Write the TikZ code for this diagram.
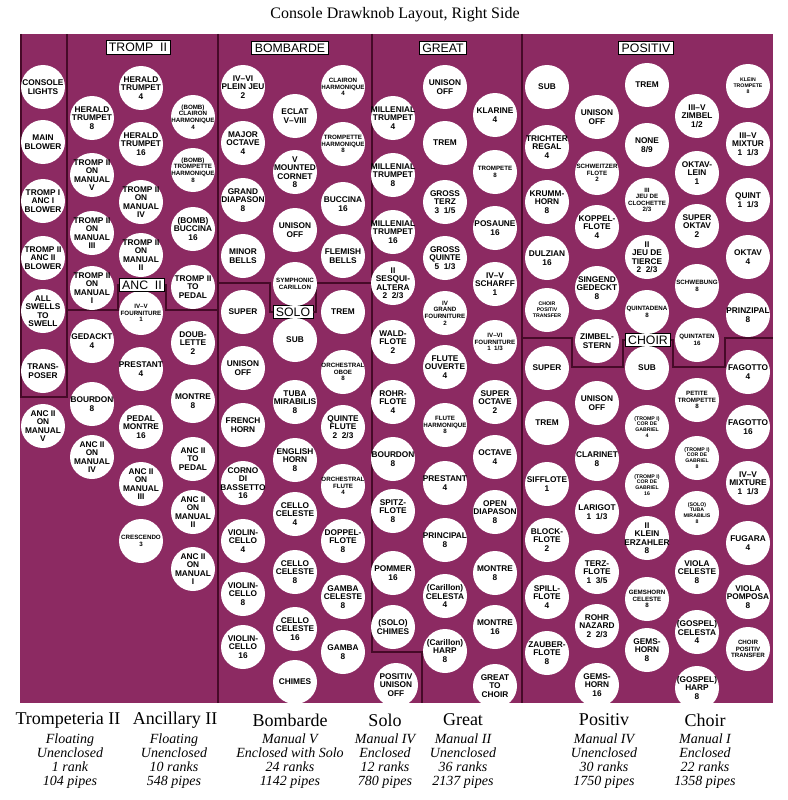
\documentclass[tikz,border=0pt]{standalone}
\usepackage{fontspec}
\setmainfont{Liberation Serif}
\newfontfamily\knobfont{Liberation Sans}
\definecolor{panel}{RGB}{140,42,98}
\definecolor{rulec}{RGB}{70,10,40}
\tikzset{
 knob/.style={circle, fill=white, minimum size=44pt, inner sep=0pt},
 kt/.style={align=center, inner sep=0pt, text=black},
 kf/.style={font=\knobfont\bfseries\fontsize{8.3}{8.5}\selectfont},
 ks/.style={font=\knobfont\bfseries\fontsize{6.2}{6.6}\selectfont},
 kx/.style={font=\knobfont\bfseries\fontsize{5.2}{5.8}\selectfont},
 divline/.style={draw=rulec, line width=2pt},
 secbox/.style={draw=black, fill=white, line width=0.8pt, font=\knobfont\fontsize{12.3}{13}\selectfont, inner xsep=3pt, inner ysep=1.5pt, minimum height=13.5pt},
 mgr/.style={font=\fontsize{18}{19}\selectfont, inner sep=0pt},
 mdet/.style={font=\itshape\fontsize{14}{13.7}\selectfont, align=center, anchor=north, inner sep=0pt},
}
\newcommand\kn[5][kf]{\node[knob] (#2) at (#3,#4) {};\node[kt,#1] (#2t) at (#2) {#5};}
\begin{document}
\begin{tikzpicture}[x=1pt,y=-1pt]
\useasboundingbox (0,0) rectangle (787,800);
\fill[panel] (20,34) rectangle (773,703);
% title
\node[font=\fontsize{16}{18}\selectfont] (title) at (395,15) {Console Drawknob Layout, Right Side};
% section boxes
\node[secbox] (btromp) at (138,47.5) {TROMP\ \ II};
\node[secbox] (bbomb) at (290,48) {BOMBARDE};
\node[secbox] (bgreat) at (443,48) {GREAT};
\node[secbox] (bpos) at (646,48) {POSITIV};
\node[secbox] (banc) at (142,285) {ANC\ \ II};
\node[secbox] (bsolo) at (293,312) {SOLO};
\node[secbox] (bchoir) at (648,340) {CHOIR};
% dividing lines
\draw[divline] (21,34) -- (21,397) -- (67,397) -- (67,34);
\draw[divline] (67,310) -- (118,310) -- (118,285) -- (banc.west);
\draw[divline] (banc.east) -- (166,285) -- (166,310) -- (218,310);
\draw[divline] (218,34) -- (218,703);
\draw[divline] (218,283) -- (270,283) -- (270,312) -- (bsolo.west);
\draw[divline] (bsolo.east) -- (316,312) -- (316,283) -- (372,283);
\draw[divline] (372,34) -- (372,652) -- (422,652) -- (422,703);
\draw[divline] (522,34) -- (522,703);
\draw[divline] (522,338) -- (572,338) -- (572,367) -- (623,367) -- (623,340) -- (bchoir.west);
\draw[divline] (bchoir.east) -- (673,340) -- (673,367) -- (725,367) -- (725,338) -- (773,338);
% console column
\kn{c1}{43}{87}{CONSOLE\\LIGHTS}
\kn{c2}{43}{142}{MAIN\\BLOWER}
\kn{c3}{43}{201}{TROMP I\\ANC I\\BLOWER}
\kn{c4}{43}{258}{TROMP II\\ANC II\\BLOWER}
\kn{c5}{43}{311}{ALL\\SWELLS\\TO\\SWELL}
\kn{c6}{43}{371}{TRANS-\\POSER}
\kn{c7}{43}{426}{ANC II\\ON\\MANUAL\\V}
% tromp II / anc II
\kn{t1}{92}{118}{HERALD\\TRUMPET\\8}
\kn{t2}{92}{175}{TROMP II\\ON\\MANUAL\\V}
\kn{t3}{92}{233}{TROMP II\\ON\\MANUAL\\III}
\kn{t4}{92}{288}{TROMP II\\ON\\MANUAL\\I}
\kn{a1}{92}{341}{GEDACKT\\4}
\kn{a2}{92}{404}{BOURDON\\8}
\kn{a3}{92}{457}{ANC II\\ON\\MANUAL\\IV}
\kn{t5}{141}{88}{HERALD\\TRUMPET\\4}
\kn{t6}{141}{144}{HERALD\\TRUMPET\\16}
\kn{t7}{141}{202}{TROMP II\\ON\\MANUAL\\IV}
\kn{t8}{141}{255}{TROMP II\\ON\\MANUAL\\II}
\kn[ks]{a4}{141}{313}{IV–V\\FOURNITURE\\1}
\kn{a5}{141}{369}{PRESTANT\\4}
\kn{a6}{141}{427}{PEDAL\\MONTRE\\16}
\kn{a7}{141}{484}{ANC II\\ON\\MANUAL\\III}
\kn[ks]{a8}{141}{541}{CRESCENDO\\3}
\kn[ks]{t9}{193}{117}{(BOMB)\\CLAIRON\\HARMONIQUE\\4}
\kn[ks]{t10}{193}{170}{(BOMB)\\TROMPETTE\\HARMONIQUE\\8}
\kn{t11}{193}{229}{(BOMB)\\BUCCINA\\16}
\kn{t12}{193}{287}{TROMP II\\TO\\PEDAL}
\kn{a9}{193}{343}{DOUB-\\LETTE\\2}
\kn{a10}{193}{401}{MONTRE\\8}
\kn{a11}{193}{459}{ANC II\\TO\\PEDAL}
\kn{a12}{193}{512}{ANC II\\ON\\MANUAL\\II}
\kn{a13}{193}{569}{ANC II\\ON\\MANUAL\\I}
% bombarde
\kn{b1}{243}{87}{IV–VI\\PLEIN JEU\\2}
\kn[ks]{b2}{343}{87}{CLAIRON\\HARMONIQUE\\4}
\kn{b3}{295}{116}{ECLAT\\V–VIII}
\kn{b4}{243}{143}{MAJOR\\OCTAVE\\4}
\kn[ks]{b5}{343}{144}{TROMPETTE\\HARMONIQUE\\8}
\kn{b6}{295}{172}{V\\MOUNTED\\CORNET\\8}
\kn{b7}{243}{200}{GRAND\\DIAPASON\\8}
\kn{b8}{343}{204}{BUCCINA\\16}
\kn{b9}{295}{230}{UNISON\\OFF}
\kn{b10}{243}{256}{MINOR\\BELLS}
\kn{b11}{343}{256}{FLEMISH\\BELLS}
\kn[ks]{b12}{295}{284}{SYMPHONIC\\CARILLON}
% solo
\kn{s1}{243}{312}{SUPER}
\kn{s2}{343}{312}{TREM}
\kn{s3}{295}{340}{SUB}
\kn{s4}{243}{368}{UNISON\\OFF}
\kn[ks]{s5}{343}{372}{ORCHESTRAL\\OBOE\\8}
\kn{s6}{295}{402}{TUBA\\MIRABILIS\\8}
\kn{s7}{243}{425}{FRENCH\\HORN}
\kn{s8}{343}{427}{QUINTE\\FLUTE\\2~~2/3}
\kn{s9}{295}{460}{ENGLISH\\HORN\\8}
\kn{s10}{243}{483}{CORNO\\DI\\BASSETTO\\16}
\kn[ks]{s11}{343}{486}{ORCHESTRAL\\FLUTE\\4}
\kn{s12}{295}{514}{CELLO\\CELESTE\\4}
\kn{s13}{243}{541}{VIOLIN-\\CELLO\\4}
\kn{s14}{343}{541}{DOPPEL-\\FLOTE\\8}
\kn{s15}{295}{572}{CELLO\\CELESTE\\8}
\kn{s16}{243}{594}{VIOLIN-\\CELLO\\8}
\kn{s17}{343}{597}{GAMBA\\CELESTE\\8}
\kn{s18}{295}{629}{CELLO\\CELESTE\\16}
\kn{s19}{243}{647}{VIOLIN-\\CELLO\\16}
\kn{s20}{343}{652}{GAMBA\\8}
\kn{s21}{295}{682}{CHIMES}
% great
\kn{g1}{445}{87}{UNISON\\OFF}
\kn{g2}{393}{118}{MILLENIAL\\TRUMPET\\4}
\kn{g3}{495}{115}{KLARINE\\4}
\kn{g4}{445}{143}{TREM}
\kn{g5}{393}{175}{MILLENIAL\\TRUMPET\\8}
\kn[ks]{g6}{495}{172}{TROMPETE\\8}
\kn{g7}{445}{202}{GROSS\\TERZ\\3~~1/5}
\kn{g8}{393}{232}{MILLENIAL\\TRUMPET\\16}
\kn{g9}{495}{228}{POSAUNE\\16}
\kn{g10}{445}{258}{GROSS\\QUINTE\\5~~1/3}
\kn{g11}{393}{283}{II\\SESQUI-\\ALTERA\\2~~2/3}
\kn{g12}{495}{284}{IV–V\\SCHARFF\\1}
\kn[ks]{g13}{445}{313}{IV\\GRAND\\FOURNITURE\\2}
\kn{g14}{393}{342}{WALD-\\FLOTE\\2}
\kn[ks]{g15}{495}{342}{IV–VI\\FOURNITURE\\1~~1/3}
\kn{g16}{445}{367}{FLUTE\\OUVERTE\\4}
\kn{g17}{393}{402}{ROHR-\\FLOTE\\4}
\kn{g18}{495}{402}{SUPER\\OCTAVE\\2}
\kn[ks]{g19}{445}{425}{FLUTE\\HARMONIQUE\\8}
\kn{g20}{393}{459}{BOURDON\\8}
\kn{g21}{495}{457}{OCTAVE\\4}
\kn{g22}{445}{483}{PRESTANT\\4}
\kn{g23}{393}{511}{SPITZ-\\FLOTE\\8}
\kn{g24}{495}{512}{OPEN\\DIAPASON\\8}
\kn{g25}{445}{540}{PRINCIPAL\\8}
\kn{g26}{393}{573}{POMMER\\16}
\kn{g27}{495}{573}{MONTRE\\8}
\kn{g28}{445}{596}{(Carillon)\\CELESTA\\4}
\kn{g29}{393}{627}{(SOLO)\\CHIMES}
\kn{g30}{495}{627}{MONTRE\\16}
\kn{g31}{445}{651}{(Carillon)\\HARP\\8}
\kn{g32}{396}{685}{POSITIV\\UNISON\\OFF}
\kn{g33}{495}{686}{GREAT\\TO\\CHOIR}
% positiv
\kn{p1}{547}{87}{SUB}
\kn{p2}{647}{85}{TREM}
\kn[kx]{p3}{748}{86}{KLEIN\\TROMPETE\\8}
\kn{p4}{597}{117}{UNISON\\OFF}
\kn{p5}{697}{116}{III–V\\ZIMBEL\\1/2}
\kn{p6}{547}{147}{TRICHTER\\REGAL\\4}
\kn{p7}{647}{145}{NONE\\8/9}
\kn{p8}{748}{144}{III–V\\MIXTUR\\1~~1/3}
\kn[ks]{p9}{597}{173}{SCHWEITZER\\FLOTE\\2}
\kn{p10}{697}{173}{OKTAV-\\LEIN\\1}
\kn{p11}{547}{202}{KRUMM-\\HORN\\8}
\kn[ks]{p12}{647}{200}{III\\JEU DE\\CLOCHETTE\\2/3}
\kn{p13}{748}{200}{QUINT\\1~~1/3}
\kn{p14}{597}{227}{KOPPEL-\\FLOTE\\4}
\kn{p15}{697}{226}{SUPER\\OKTAV\\2}
\kn{p16}{547}{258}{DULZIAN\\16}
\kn{p17}{647}{257}{II\\JEU DE\\TIERCE\\2~~2/3}
\kn{p18}{748}{257}{OKTAV\\4}
\kn{p19}{597}{288}{SINGEND\\GEDECKT\\8}
\kn[ks]{p20}{697}{286}{SCHWEBUNG\\8}
\kn[kx]{p21}{547}{310}{CHOIR\\POSITIV\\TRANSFER}
\kn[ks]{p22}{647}{312}{QUINTADENA\\8}
\kn{p23}{748}{315}{PRINZIPAL\\8}
\kn{p24}{597}{341}{ZIMBEL-\\STERN}
\kn[ks]{p25}{697}{340}{QUINTATEN\\16}
% choir
\kn{h1}{547}{368}{SUPER}
\kn{h2}{647}{368}{SUB}
\kn{h3}{748}{372}{FAGOTTO\\4}
\kn{h4}{597}{403}{UNISON\\OFF}
\kn[ks]{h5}{697}{400}{PETITE\\TROMPETTE\\8}
\kn{h6}{547}{423}{TREM}
\kn[kx]{h7}{647}{427}{(TROMP I)\\COR DE\\GABRIEL\\4}
\kn{h8}{748}{427}{FAGOTTO\\16}
\kn{h9}{597}{459}{CLARINET\\8}
\kn[kx]{h10}{697}{458}{(TROMP I)\\COR DE\\GABRIEL\\8}
\kn{h11}{547}{484}{SIFFLOTE\\1}
\kn[kx]{h12}{647}{485}{(TROMP I)\\COR DE\\GABRIEL\\16}
\kn{h13}{748}{483}{IV–V\\MIXTURE\\1~~1/3}
\kn{h14}{597}{512}{LARIGOT\\1~~1/3}
\kn[kx]{h15}{697}{513}{(SOLO)\\TUBA\\MIRABILIS\\8}
\kn{h16}{547}{540}{BLOCK-\\FLOTE\\2}
\kn{h17}{647}{538}{II\\KLEIN\\ERZAHLER\\8}
\kn{h18}{748}{543}{FUGARA\\4}
\kn{h19}{597}{572}{TERZ-\\FLOTE\\1~~3/5}
\kn{h20}{697}{572}{VIOLA\\CELESTE\\8}
\kn{h21}{547}{597}{SPILL-\\FLOTE\\4}
\kn[ks]{h22}{647}{599}{GEMSHORN\\CELESTE\\8}
\kn{h23}{748}{597}{VIOLA\\POMPOSA\\8}
\kn{h24}{597}{626}{ROHR\\NAZARD\\2~~2/3}
\kn{h25}{697}{632}{(GOSPEL)\\CELESTA\\4}
\kn{h26}{547}{653}{ZAUBER-\\FLOTE\\8}
\kn{h27}{647}{650}{GEMS-\\HORN\\8}
\kn[ks]{h28}{748}{649}{CHOIR\\POSITIV\\TRANSFER}
\kn{h29}{597}{685}{GEMS-\\HORN\\16}
\kn{h30}{697}{688}{(GOSPEL)\\HARP\\8}
% redraw box on top of overlapping knob
\node[secbox] (banc2) at (banc) {ANC\ \ II};
% bottom legends
\node[mgr] (ltr) at (68,720) {Trompeteria II};
\node[mdet] (dtr) at (70,734) {Floating\\Unenclosed\\1 rank\\104 pipes};
\node[mgr] (lan) at (175,720) {Ancillary II};
\node[mdet] (dan) at (174,734) {Floating\\Unenclosed\\10 ranks\\548 pipes};
\node[mgr] (lbo) at (290,720) {Bombarde};
\node[mdet] (dbo) at (290,734) {Manual V\\Enclosed with Solo\\24 ranks\\1142 pipes};
\node[mgr] (lso) at (385,720) {Solo};
\node[mdet] (dso) at (385,734) {Manual IV\\Enclosed\\12 ranks\\780 pipes};
\node[mgr] (lgr) at (463,720) {Great};
\node[mdet] (dgr) at (463,734) {Manual II\\Unenclosed\\36 ranks\\2137 pipes};
\node[mgr] (lpo) at (604,720) {Positiv};
\node[mdet] (dpo) at (604,734) {Manual IV\\Unenclosed\\30 ranks\\1750 pipes};
\node[mgr] (lch) at (705,720) {Choir};
\node[mdet] (dch) at (705,734) {Manual I\\Enclosed\\22 ranks\\1358 pipes};
\end{tikzpicture}
\end{document}
